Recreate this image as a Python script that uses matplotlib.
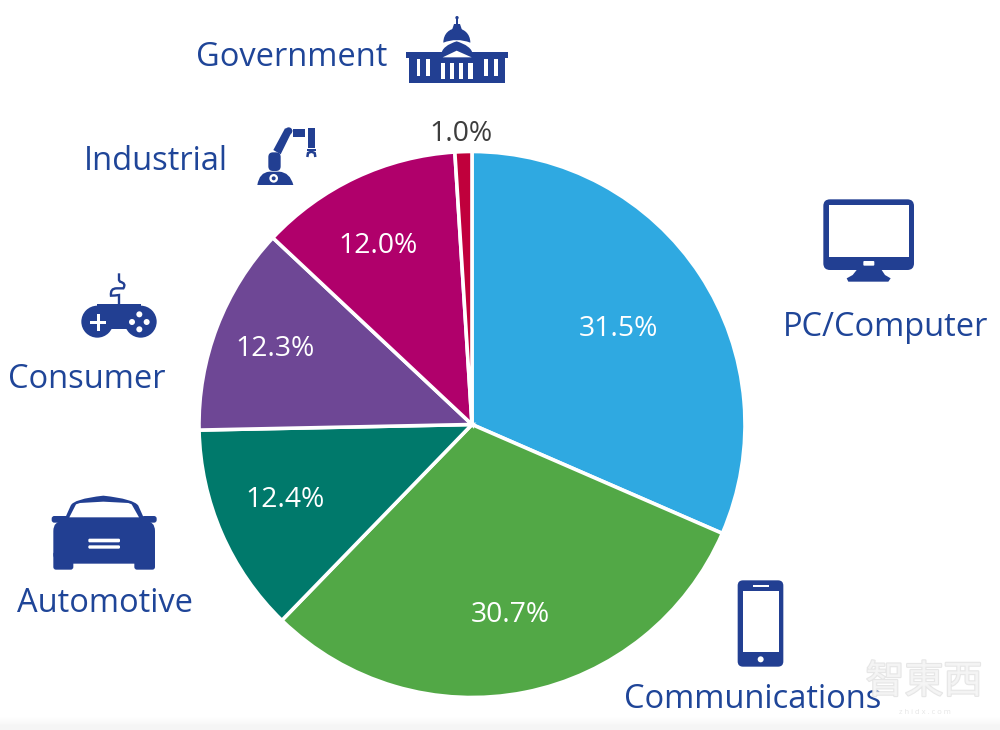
import matplotlib
matplotlib.use("Agg")
import matplotlib.patheffects as pe
import matplotlib.pyplot as plt
from matplotlib.patches import Circle, FancyBboxPatch, PathPatch, Polygon, Rectangle
from matplotlib.path import Path

categories = ["PC/Computer", "Communications", "Automotive", "Consumer", "Industrial", "Government"]
shares = [31.5, 30.7, 12.4, 12.3, 12.0, 1.0]
slice_colors = ["#2fa9e1", "#52a846", "#00796b", "#6e4795", "#b0006b", "#c0003c"]
pct_colors = ["white", "white", "white", "white", "white", "#3d3d3d"]
pct_pos = [(618, 329), (510, 615), (285, 500), (275, 349), (378, 246), (461, 134)]
label_pos = [(886, 327), (753, 699), (105, 604), (87, 379), (156, 161), (292, 58)]

BLUE = "#223f92"
TEXT_BLUE = "#1f4598"

plt.rcParams["font.family"] = ["Open Sans", "DejaVu Sans"]

fig = plt.figure(figsize=(10, 7.3), dpi=100)
ax = fig.add_axes([0, 0, 1, 1])

ax.pie(shares, colors=slice_colors, center=(472, 424.5), radius=273, startangle=-90,
       counterclock=True, normalize=True,
       wedgeprops={"edgecolor": "white", "linewidth": 2.6})

# pixel coordinates, y going down
ax.set_xlim(0, 1000)
ax.set_ylim(730, 0)
ax.set_aspect("equal")
ax.set_axis_off()

M, L, Q, C, Z = Path.MOVETO, Path.LINETO, Path.CURVE3, Path.CURVE4, Path.CLOSEPOLY


def zoomed(x0, y0):
    # the icons were measured on 3x crops
    def conv(x, y):
        return x0 + x / 3, y0 + y / 3
    return conv


def poly(points, conv, color=BLUE, z=5):
    ax.add_patch(Polygon([conv(*p) for p in points], closed=True, fc=color, ec="none", zorder=z))


def box(x1, y1, x2, y2, conv, color=BLUE, z=5, rounding=0):
    (a, b), (c, d) = conv(x1, y1), conv(x2, y2)
    if rounding:
        r = rounding / 3
        ax.add_patch(FancyBboxPatch((a + r, b + r), c - a - 2 * r, d - b - 2 * r,
                                    boxstyle=f"round,pad={r},rounding_size={r}",
                                    fc=color, ec="none", zorder=z))
    else:
        ax.add_patch(Rectangle((a, b), c - a, d - b, fc=color, ec="none", zorder=z))


def dot(x, y, r, conv, color=BLUE, z=5):
    ax.add_patch(Circle(conv(x, y), r / 3, fc=color, ec="none", zorder=z))


def curve(points, codes, conv, color=BLUE, z=5):
    ax.add_patch(PathPatch(Path([conv(*p) for p in points], codes), fc=color, ec="none", zorder=z))


def draw_government():
    c = zoomed(390, 0)
    box(48, 157, 354, 175, c)
    box(58, 170, 345, 248, c)
    for x in (80, 108, 283, 312):
        box(x, 178, x + 11, 229, c, "white", 6)
    for x in (153, 180, 207, 235):
        box(x, 188, x + 13, 238, c, "white", 6)
    poly([(143, 172), (158, 172), (200, 150), (245, 172), (262, 172), (262, 188), (143, 188)], c, BLUE, 6)
    poly([(158, 172), (200, 152), (245, 172)], c, "white", 7)
    # dome
    curve([(160, 128), (160, 100), (180, 85), (200, 85), (220, 85), (241, 100), (241, 128),
           (200, 112), (160, 128), (160, 128)],
          [M, C, C, C, C, C, C, Q, Q, Z], c)
    curve([(154, 168), (152, 145), (175, 132), (200, 124), (225, 132), (250, 145), (248, 168),
           (200, 146), (154, 168), (154, 168)],
          [M, C, C, C, C, C, C, Q, Q, Z], c)
    dot(201, 53, 5, c)
    box(198, 55, 204, 72, c)
    poly([(186, 90), (192, 72), (210, 72), (216, 90)], c)


def draw_robot():
    c = zoomed(240, 115)
    curve([(52, 210), (58, 172), (88, 170), (118, 170), (150, 172), (160, 210), (52, 210)],
          [M, Q, Q, L, Q, Q, Z], c)
    dot(101, 190, 13, c, "white", 6)
    dot(101, 190, 6, c, BLUE, 7)
    box(85, 112, 122, 168, c, rounding=14)
    poly([(100, 105), (135, 40), (157, 47), (122, 118)], c)
    dot(146, 48, 11, c)
    box(160, 42, 195, 65, c)
    box(203, 40, 225, 100, c)
    box(200, 101, 228, 108, c)
    claw = [c(202, 126), c(204, 114), c(214, 110), c(224, 114), c(226, 126)]
    ax.plot(*zip(*claw), color=BLUE, lw=1.8, zorder=5, solid_capstyle="butt")


def draw_gamepad():
    c = zoomed(70, 265)
    dot(82, 170, 48, c)
    dot(212, 170, 48, c)
    box(80, 118, 214, 170, c)
    poly([(100, 165), (195, 165), (178, 192), (118, 192)], c)
    box(59, 167, 109, 176, c, "white", 6)
    box(80, 146, 89, 197, c, "white", 6)
    for x, y in [(208, 148), (186, 171), (230, 171), (208, 193)]:
        dot(x, y, 9, c, "white", 6)
    cord = Path([c(147, 118), c(147, 90), c(135, 92), c(123, 92), c(120, 70), c(140, 70), c(160, 70),
                 c(170, 55), c(150, 50), c(147, 45), c(147, 25)],
                [M, L, Q, Q, Q, Q, L, Q, Q, L, L])
    ax.add_patch(PathPatch(cord, fc="none", ec=BLUE, lw=1.7, zorder=5))


def draw_car():
    c = zoomed(40, 485)
    # roof
    curve([(75, 100), (92, 62), (100, 42), (190, 32), (282, 42), (295, 62), (312, 100), (75, 100)],
          [M, L, Q, Q, Q, Q, L, Z], c)
    poly([(88, 97), (108, 58), (120, 54), (190, 50), (265, 54), (275, 58), (297, 97)], c, "white", 6)
    box(35, 93, 85, 113, c, rounding=8)
    box(305, 93, 350, 113, c, rounding=8)
    box(58, 97, 330, 135, c)
    box(40, 108, 345, 236, c, rounding=30)
    box(40, 200, 100, 254, c, rounding=8)
    box(283, 200, 345, 254, c, rounding=8)
    box(145, 161, 240, 172, c, "white", 6, rounding=4)
    box(145, 181, 240, 191, c, "white", 6, rounding=4)


def draw_monitor():
    c = zoomed(810, 190)
    box(40, 28, 312, 240, c, rounding=20)
    box(57, 45, 296, 200, c, "white", 6)
    box(160, 213, 193, 227, c, "white", 6, rounding=3)
    poly([(140, 240), (215, 240), (225, 255), (242, 265), (235, 275), (115, 275), (110, 265), (128, 255)], c)


def draw_phone():
    c = zoomed(720, 570)
    box(53, 31, 190, 290, c, rounding=16)
    box(68, 62, 177, 247, c, "white", 6)
    box(99, 44, 147, 50, c, "white", 6)
    dot(122, 268, 9, c, "white", 6)


draw_government()
draw_robot()
draw_gamepad()
draw_car()
draw_monitor()
draw_phone()

for name, share, p, lp, col in zip(categories, shares, pct_pos, label_pos, pct_colors):
    ax.text(p[0], p[1], f"{share:.1f}%", color=col, fontsize=20.3, ha="center", va="center", zorder=8)
    ax.text(lp[0], lp[1], name, color=TEXT_BLUE, fontsize=23.5, ha="center", va="center", zorder=8)

# faint site watermark bottom right
ax.text(924, 682, "智東西", family=["Noto Sans CJK TC", "DejaVu Sans"], fontsize=28, color="#f6f6f6",
        alpha=0.85, ha="center", va="center", zorder=9,
        path_effects=[pe.withStroke(linewidth=1.6, foreground="#e2e2e2")])
ax.text(925, 713, "z h i d x . c o m", color="#e6e6e6", fontsize=5.5, ha="center", va="center", zorder=9)

# soft grey fade along the bottom edge
ax.imshow([[1.0], [0.96]], extent=(0, 1000, 730, 712), cmap="gray", vmin=0, vmax=1,
          aspect="auto", interpolation="bilinear", zorder=0)
ax.set_xlim(0, 1000)
ax.set_ylim(730, 0)

fig.savefig("out.png", dpi=100)
